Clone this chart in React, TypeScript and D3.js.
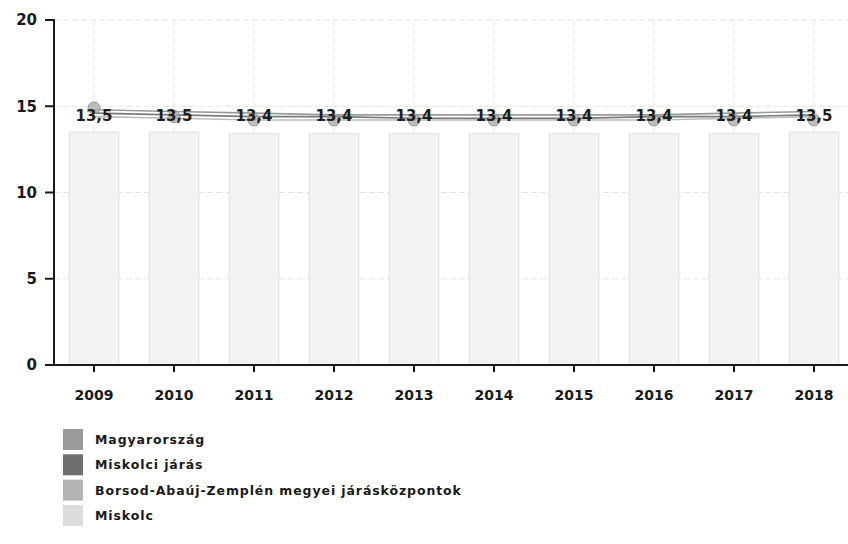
import React from "react";
import * as d3 from "d3";

const years = ["2009", "2010", "2011", "2012", "2013", "2014", "2015", "2016", "2017", "2018"];
const miskolcBars = [13.5, 13.5, 13.4, 13.4, 13.4, 13.4, 13.4, 13.4, 13.4, 13.5];
const magyarorszag = [14.8, 14.7, 14.6, 14.5, 14.5, 14.5, 14.5, 14.5, 14.6, 14.7];
const miskolciJaras = [14.6, 14.5, 14.4, 14.4, 14.3, 14.3, 14.3, 14.4, 14.4, 14.5];
const borsod = [14.4, 14.3, 14.2, 14.2, 14.2, 14.2, 14.2, 14.2, 14.3, 14.4];
const markerValues = [14.9, 14.4, 14.2, 14.2, 14.2, 14.2, 14.2, 14.2, 14.2, 14.2];
const labels = ["13,5", "13,5", "13,4", "13,4", "13,4", "13,4", "13,4", "13,4", "13,4", "13,5"];
const yTicks = [0, 5, 10, 15, 20];
const legendNames = ["Magyarország", "Miskolci járás", "Borsod-Abaúj-Zemplén megyei járásközpontok", "Miskolc"];
const legendColors = ["#9a9a9a", "#6f6f6f", "#b4b4b4", "#dcdcdc"];
const lineSeries = [
  { values: magyarorszag, color: "#9a9a9a" },
  { values: miskolciJaras, color: "#7a7a7a" },
  { values: borsod, color: "#bcbcbc" },
];

export default function App() {
  const W = 848, H = 544;
  const x = d3.scaleBand().domain(years).range([54, 854]).paddingInner(0.38).paddingOuter(0.19);
  const y = d3.scaleLinear().domain([0, 20]).range([365, 20]);
  const cx = (d: string) => (x(d) as number) + x.bandwidth() / 2;
  const line = d3.line<number>().x((_, i) => cx(years[i])).y((v) => y(v));
  const font = "'DejaVu Sans', Verdana, sans-serif";

  return (
    <svg width={W} height={H} style={{ position: "absolute", left: 0, top: 0, background: "#fff" }}>
      {/* horizontal grid */}
      {yTicks.filter((t) => t > 0).map((t) => (
        <line key={"hg" + t} x1={54} x2={W} y1={y(t)} y2={y(t)} stroke="#e4e4e4" strokeDasharray="6,3" />
      ))}
      {/* vertical grid */}
      {years.map((yr) => (
        <line key={"vg" + yr} x1={cx(yr)} x2={cx(yr)} y1={y(20)} y2={y(0)} stroke="#e8e8e8" strokeDasharray="6,3" />
      ))}
      {/* bars */}
      {years.map((yr, i) => (
        <rect key={"b" + yr} x={x(yr)} y={y(miskolcBars[i])} width={x.bandwidth()} height={y(0) - y(miskolcBars[i])}
          fill="#f3f3f3" stroke="#dedede" strokeWidth={1} />
      ))}
      {/* lines */}
      {lineSeries.map((s, k) => (
        <path key={"l" + k} d={line(s.values) as string} fill="none" stroke={s.color} strokeWidth={1.6} />
      ))}
      {/* markers */}
      {years.map((yr, i) => (
        <circle key={"m" + yr} cx={cx(yr)} cy={y(markerValues[i])} r={6} fill="#a8a8a8" fillOpacity={0.75} stroke="#888" strokeWidth={0.8} />
      ))}
      {/* labels */}
      {years.map((yr, i) => (
        <text key={"t" + yr} x={cx(yr)} y={121} textAnchor="middle" fontFamily={font} fontWeight="bold" fontSize={15} fill="#1e1e1e">
          {labels[i]}
        </text>
      ))}
      {/* axes */}
      <line x1={54} x2={54} y1={y(20) - 1} y2={y(0) + 1} stroke="#1a1a1a" strokeWidth={2} />
      <line x1={53} x2={W} y1={y(0)} y2={y(0)} stroke="#1a1a1a" strokeWidth={2} />
      {yTicks.map((t) => (
        <g key={"yt" + t}>
          <line x1={45} x2={54} y1={y(t)} y2={y(t)} stroke="#1a1a1a" strokeWidth={2} />
          <text x={37} y={y(t)} dy="0.35em" textAnchor="end" fontFamily={font} fontWeight="bold" fontSize={15} fill="#1a1a1a">{t}</text>
        </g>
      ))}
      {years.map((yr) => (
        <g key={"xt" + yr}>
          <line x1={cx(yr)} x2={cx(yr)} y1={y(0)} y2={y(0) + 7} stroke="#1a1a1a" strokeWidth={2} />
          <text x={cx(yr)} y={400} textAnchor="middle" fontFamily={font} fontWeight="bold" fontSize={14} fill="#1a1a1a">{yr}</text>
        </g>
      ))}
      {/* legend */}
      {legendNames.map((n, i) => (
        <g key={"lg" + i} transform={`translate(63, ${429 + i * 25.3})`}>
          <rect x={0} y={0} width={20} height={21} fill={legendColors[i]} />
          <text x={32} y={15} fontFamily={font} fontWeight="bold" fontSize={12.5} letterSpacing={0.9} fill="#1a1a1a">{n}</text>
        </g>
      ))}
    </svg>
  );
}
